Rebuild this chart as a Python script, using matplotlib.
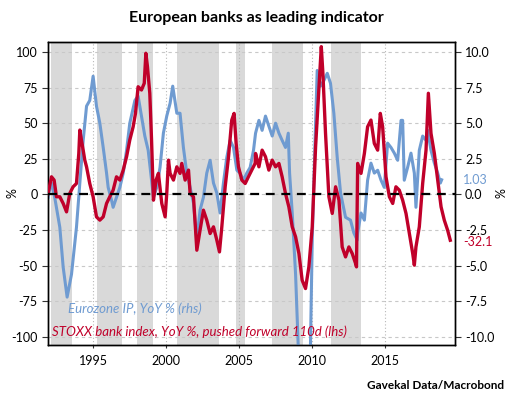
import matplotlib
matplotlib.use("Agg")
import matplotlib.pyplot as plt
import numpy as np

plt.rcParams['font.family'] = ['Lato', 'DejaVu Sans']
plt.rcParams['axes.unicode_minus'] = False

##! Data
# Eurozone IP, YoY % (right-hand scale)
ip_years = [1991.92, 1992.05, 1992.15, 1992.37, 1992.72, 1992.95, 1993.22, 1993.52,
            1993.86, 1994.09, 1994.32, 1994.55, 1994.77, 1995.00, 1995.23, 1995.46,
            1995.69, 1995.92, 1996.03, 1996.26, 1996.37, 1996.60, 1996.83, 1997.06,
            1997.29, 1997.51, 1997.86, 1998.08, 1998.31, 1998.54, 1998.77, 1999.00,
            1999.13, 1999.36, 1999.58, 1999.81, 2000.04, 2000.27, 2000.45, 2000.73,
            2000.95, 2001.18, 2001.41, 2001.64, 2001.87, 2002.10, 2002.32, 2002.55,
            2002.78, 2003.01, 2003.24, 2003.47, 2003.69, 2003.92, 2004.15, 2004.38,
            2004.61, 2004.84, 2005.06, 2005.29, 2005.52, 2005.75, 2005.98, 2006.12,
            2006.35, 2006.57, 2006.80, 2007.03, 2007.26, 2007.49, 2007.72, 2007.94,
            2008.17, 2008.36, 2008.45, 2008.63, 2008.86, 2009.09, 2009.35, 2009.70,
            2009.88, 2010.00, 2010.23, 2010.34, 2010.57, 2010.80, 2011.03, 2011.25,
            2011.48, 2011.71, 2011.94, 2012.28, 2012.62, 2012.85, 2013.08, 2013.11,
            2013.34, 2013.57, 2013.79, 2014.02, 2014.25, 2014.48, 2014.71, 2014.93,
            2015.16, 2015.39, 2015.62, 2015.85, 2016.08, 2016.19, 2016.30, 2016.53,
            2016.76, 2016.99, 2017.10, 2017.33, 2017.56, 2017.79, 2017.90, 2018.13,
            2018.36, 2018.59, 2018.77, 2018.86]
ip_vals = [-0.2, 0.5, 0.8, -0.2, -2.3, -5.1, -7.2, -5.6,
           -2.3, 0.8, 3.8, 6.2, 6.6, 8.3, 6.2, 5.0,
           3.3, 1.5, 0.5, -0.4, -0.9, -0.2, 0.5, 1.5,
           3.1, 5.0, 6.6, 6.9, 5.5, 4.1, 3.1, 1.0,
           -0.2, 0.5, 1.9, 4.3, 5.5, 6.4, 7.6, 5.7,
           5.7, 3.3, 1.5, 0.5, -0.6, -3.2, -1.1, -0.2,
           1.5, 2.4, 0.8, 0.1, -1.3, 0.8, 2.6, 3.8,
           3.3, 1.7, 1.5, 1.0, 1.5, 1.9, 3.1, 4.3,
           5.2, 4.5, 5.5, 4.8, 4.1, 5.0, 4.3, 3.8,
           3.3, 4.3, 1.5, -1.3, -5.6, -12.0, -20.5, -17.0,
           -10.5, -3.2, 5.0, 8.7, 7.6, 8.0, 8.5, 7.8,
           5.7, 2.6, 0.1, -1.6, -1.8, -2.7, -3.2, -2.7,
           -1.3, -1.8, 1.0, 2.2, 1.5, 1.7, 1.0, 0.5,
           3.6, 3.3, 2.9, 2.4, 5.2, 5.2, 1.0, 1.9,
           2.9, 1.5, -0.9, 3.1, 4.1, 3.8, 4.5, 3.1,
           2.2, 1.5, 0.8, 1.03]

# STOXX bank index, YoY %, pushed forward 110d (left-hand scale)
bank_years = [1991.92, 1992.15, 1992.33, 1992.49, 1992.72, 1992.95, 1993.18, 1993.40,
              1993.63, 1993.86, 1994.02, 1994.09, 1994.20, 1994.32, 1994.43, 1994.55,
              1994.77, 1995.00, 1995.23, 1995.46, 1995.69, 1995.92, 1996.14, 1996.37,
              1996.60, 1996.83, 1997.06, 1997.29, 1997.51, 1997.74, 1997.90, 1998.08,
              1998.31, 1998.50, 1998.61, 1998.72, 1998.88, 1999.00, 1999.13, 1999.31,
              1999.47, 1999.70, 1999.93, 2000.04, 2000.16, 2000.27, 2000.50, 2000.73,
              2000.95, 2001.07, 2001.30, 2001.53, 2001.64, 2001.87, 2002.10, 2002.32,
              2002.55, 2002.78, 2003.01, 2003.24, 2003.47, 2003.65, 2003.81, 2004.04,
              2004.27, 2004.49, 2004.65, 2004.79, 2004.95, 2005.18, 2005.41, 2005.63,
              2005.86, 2006.09, 2006.12, 2006.35, 2006.57, 2006.80, 2007.03, 2007.26,
              2007.49, 2007.72, 2007.94, 2008.17, 2008.40, 2008.63, 2008.86, 2009.09,
              2009.31, 2009.54, 2009.77, 2010.00, 2010.23, 2010.46, 2010.62, 2010.73,
              2010.91, 2011.14, 2011.37, 2011.60, 2011.83, 2012.05, 2012.28, 2012.51,
              2012.74, 2012.97, 2013.03, 2013.11, 2013.34, 2013.57, 2013.79, 2014.02,
              2014.25, 2014.48, 2014.66, 2014.82, 2015.05, 2015.28, 2015.51, 2015.73,
              2015.96, 2016.19, 2016.42, 2016.65, 2016.88, 2016.99, 2017.10, 2017.33,
              2017.56, 2017.79, 2017.95, 2018.13, 2018.36, 2018.59, 2018.82, 2019.04,
              2019.27, 2019.45]
bank_vals = [0.7, 12.4, 10.1, -1.6, -1.6, -6.3, -12.2, 0.7,
             5.4, 7.7, 28.8, 45.2, 38.2, 31.1, 24.1, 19.4,
             7.7, -1.6, -15.7, -18.0, -15.7, -6.3, -1.6, 3.0,
             12.4, 10.1, 17.1, 26.5, 38.2, 47.5, 56.9, 75.6,
             73.3, 78.0, 99.1, 89.7, 71.0, 38.2, -4.0, 10.1,
             14.8, -6.3, -15.7, 0.7, 24.1, 14.8, 10.1, 19.4,
             14.8, 21.8, 10.1, 17.1, 0.7, -1.6, -39.1, -25.1,
             -11.0, -18.0, -27.4, -22.7, -32.1, -40.3, -22.7, 5.4,
             26.5, 52.2, 56.9, 35.8, 19.4, 10.1, 7.7, 12.4,
             17.1, 21.8, 28.8, 19.4, 31.1, 26.5, 17.1, 24.1,
             19.4, 21.8, 12.4, 0.7, -8.7, -22.7, -29.7, -41.5,
             -60.2, -66.0, -50.8, -22.7, 33.5, 75.6, 103.7, 85.0,
             42.9, -1.6, -13.3, 5.4, -4.0, -36.8, -43.8, -36.8,
             -41.5, -48.5, -50.8, 21.8, 14.8, 28.8, 47.5, 52.2,
             35.8, 31.1, 56.9, 47.5, 12.4, -1.6, -6.3, 5.4,
             3.0, -4.0, -13.3, -27.4, -41.5, -49.6, -36.8, -22.7,
             7.7, 31.1, 71.0, 42.9, 28.8, 10.1, -8.7, -18.0,
             -25.1, -32.1]

# grey shaded periods
shade_start = [1992.12, 1995.27, 1998.01, 2000.75, 2004.79, 2007.26, 2011.30]
shade_end = [1993.56, 1996.99, 1999.11, 2003.63, 2005.41, 2009.38, 2013.36]

year_ticks = [1995, 2000, 2005, 2010, 2015]
left_ticks = [100, 75, 50, 25, 0, -25, -50, -75, -100]
right_ticks = [10.0, 7.5, 5.0, 2.5, 0.0, -2.5, -5.0, -7.5, -10.0]

blue = '#6f9bd1'
red = '#c0002a'

##! Figure
fig = plt.figure(figsize=(5.12, 3.97), dpi=100)
ax2 = fig.add_axes([0.094, 0.131, 0.794, 0.764])
ax = ax2.twinx()
ax.set_zorder(ax2.get_zorder() + 1)
ax.patch.set_visible(False)

# background (shading, grid) and blue series on the rhs axis
for s, e in zip(shade_start, shade_end):
    ax2.axvspan(s, e, color='#d9d9d9', lw=0, zorder=0)
for y in year_ticks:
    ax2.axvline(y, color='#b8b8b8', lw=0.8, ls=(0, (1, 2)), zorder=1)
for t in right_ticks:
    ax2.axhline(t, color='#c8c8c8', lw=0.8, ls=(0, (3, 3)), zorder=1)
ax2.plot(ip_years, ip_vals, color=blue, lw=2.2, zorder=3)

# red series on the lhs axis
ax.plot(bank_years, bank_vals, color=red, lw=2.4, zorder=3)
ax.axhline(0, color='black', lw=1.6, ls=(0, (4, 3)), zorder=5)

xlo, xhi = 1991.92, 2019.75
ylo, yhi = -105.6, 107.2
ax2.set_xlim(xlo, xhi)
ax.set_ylim(ylo, yhi)
ax2.set_ylim(ylo / 10., yhi / 10.)

# the red (lhs) scale is shown on the left, blue on the right
ax.yaxis.tick_left()
ax.yaxis.set_label_position('left')
ax2.yaxis.tick_right()
ax2.yaxis.set_label_position('right')

ax.set_yticks(left_ticks)
ax.set_yticklabels([str(v) for v in left_ticks])
ax2.set_yticks(right_ticks)
ax2.set_yticklabels(['%.1f' % v for v in right_ticks])
ax2.set_xticks(year_ticks)
ax2.set_xticklabels([str(y) for y in year_ticks])

for a in (ax, ax2):
    a.tick_params(labelsize=9, length=4, width=0.8, color='#333333')
    for sp in a.spines.values():
        sp.set_linewidth(1.0)
ax2.tick_params(axis='x', length=2, pad=5)
ax.set_ylabel('%', fontsize=9)
ax.yaxis.set_label_coords(-0.072, 0.5)
ax2.set_ylabel('%', fontsize=9, labelpad=1)

# end values
ax2.text(1.02, 1.03, '1.03', color=blue, fontsize=9, va='center', ha='left',
         transform=ax2.get_yaxis_transform(), clip_on=False)
ax.text(1.02, -33.5, '-32.1', color=red, fontsize=9, va='center', ha='left',
        transform=ax.get_yaxis_transform(), clip_on=False)

# legend texts
ax.text(0.05, 0.12, 'Eurozone IP, YoY % (rhs)', color=blue, fontsize=9.5,
        style='italic', transform=ax.transAxes, ha='left', va='center')
ax.text(0.01, 0.045, 'STOXX bank index, YoY %, pushed forward 110d (lhs)',
        color=red, fontsize=9.5, style='italic', transform=ax.transAxes,
        ha='left', va='center')

fig.text(0.5, 0.955, 'European banks as leading indicator', ha='center',
         va='center', fontsize=11.5, fontweight='bold')
fig.text(0.985, 0.03, 'Gavekal Data/Macrobond', ha='right', va='center',
         fontsize=8.5, fontweight='bold')

fig.savefig('out.png', dpi=100)
